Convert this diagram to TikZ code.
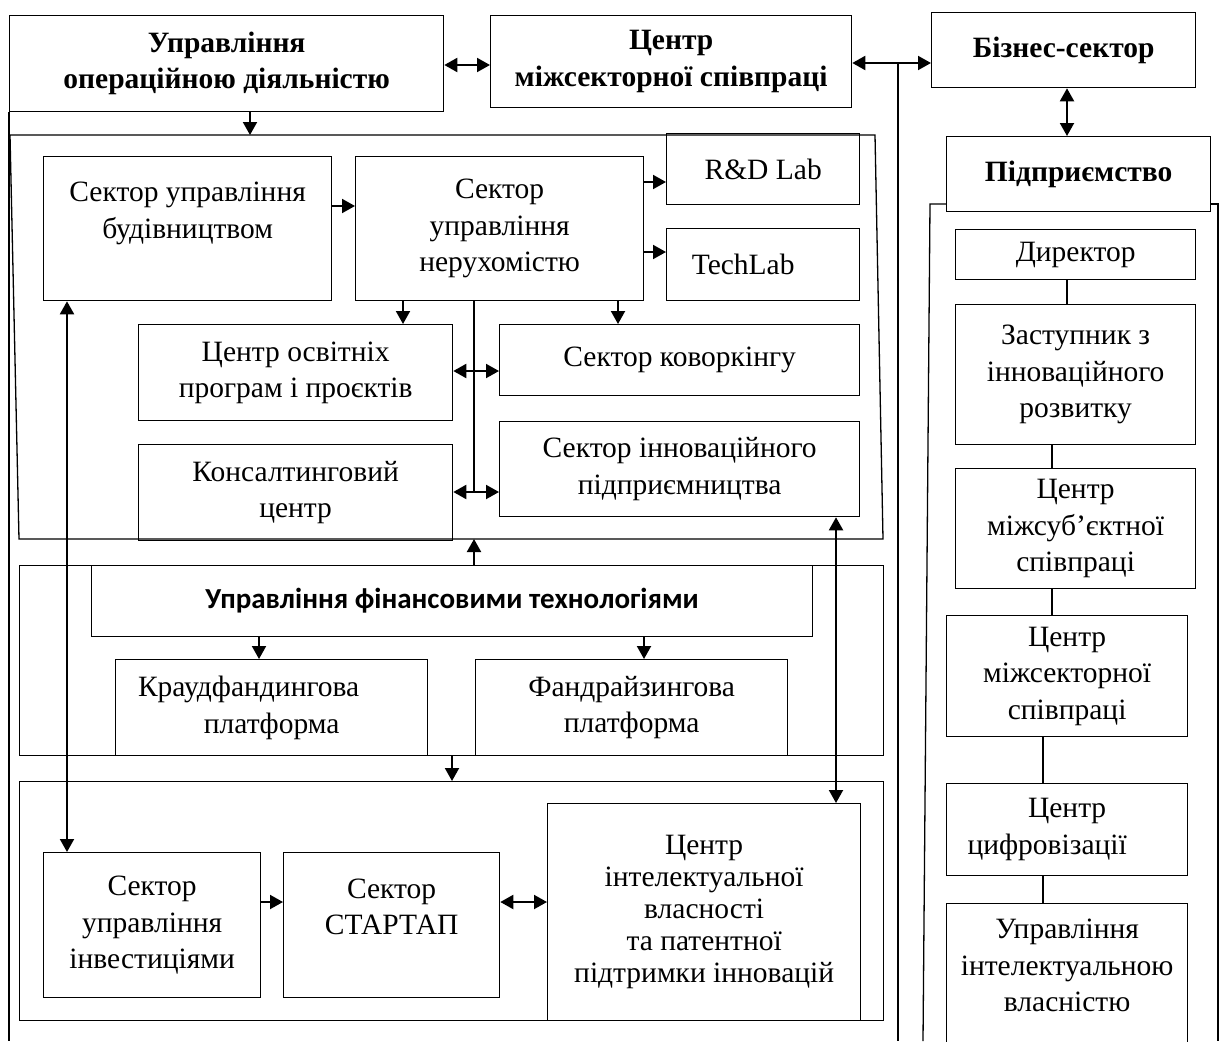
\documentclass[tikz,border=0pt]{standalone}
\usepackage{fontspec}
\setmainfont{Liberation Serif}
\newfontfamily\carlito{Carlito}
\usetikzlibrary{arrows.meta}
\begin{document}
\begin{tikzpicture}[x=1pt, y=-1pt,
  grp/.style = {draw, line width=1.3pt},
  box/.style = {draw, line width=1.3pt, align=center, inner sep=0pt, anchor=north west,
    font=\fontsize{29.5}{36.5}\selectfont},
  head/.style = {box, font=\fontsize{29.5}{36.5}\selectfont\bfseries},
  fin/.style = {box, font=\carlito\bfseries\fontsize{29}{36}\selectfont},
  arr/.style = {line width=2pt, -{Triangle[length=13pt, width=14pt]}},
  dbl/.style = {line width=2pt, {Triangle[length=13pt, width=14pt]}-{Triangle[length=13pt, width=14pt]}}]
\useasboundingbox (0,0) rectangle (1220,1041);

\coordinate (a1) at (10,135);
\coordinate (a2) at (875,135);
\coordinate (a3) at (883,539);
\coordinate (a4) at (19,539);
\coordinate (t) at (898,63);
\coordinate (b) at (898,1041);
\coordinate (j) at (474,492);
\draw[grp] (a1) -- (a2) -- (a3) -- (a4) -- cycle;
\node[grp, anchor=north west, inner sep=0pt, minimum width=864pt, minimum height=190pt] (25) at (19,565) {};
\node[grp, anchor=north west, inner sep=0pt, minimum width=864pt, minimum height=239pt] (26) at (19,781) {};

\node[head, minimum width=434pt, minimum height=96pt] (1) at (9,15) {Управління\\операційною діяльністю};
\node[head, minimum width=361pt, minimum height=92pt] (2) at (490,15) {Центр\\міжсекторної співпраці};
\node[head, minimum width=264pt, minimum height=75pt] (3) at (931,12) {Бізнес-сектор};
\node[head, minimum width=264pt, minimum height=75pt] (4) at (946,136) {Підприємство};
\node[box, minimum width=288pt, minimum height=144pt] (5) at (43,156) {Сектор управління\\будівництвом\\~};
\node[box, minimum width=288pt, minimum height=144pt] (6) at (355,156) {Сектор\\управління\\нерухомістю};
\node[box, minimum width=193pt, minimum height=71pt] (7) at (666,133) {R\&D Lab};
\node[box, minimum width=193pt, minimum height=72pt] (8) at (666,228) {TechLab\hspace*{40pt}};
\node[box, minimum width=314pt, minimum height=96pt] (9) at (138,324) {Центр освітніх\\програм і проєктів};
\node[box, minimum width=360pt, minimum height=71pt] (10) at (499,324) {Сектор коворкінгу};
\node[box, minimum width=314pt, minimum height=96pt] (11) at (138,444) {Консалтинговий\\центр};
\node[box, minimum width=360pt, minimum height=95pt] (12) at (499,421) {Сектор інноваційного\\підприємництва};
\node[fin, minimum width=721pt, minimum height=71pt] (13) at (91,565) {Управління фінансовими технологіями};
\node[box, minimum width=312pt, minimum height=96pt] (14) at (115,659) {Краудфандингова\hspace*{46pt}\\платформа};
\node[box, minimum width=312pt, minimum height=96pt] (15) at (475,659) {Фандрайзингова\\платформа};
\node[box, minimum width=217pt, minimum height=145pt] (16) at (43,852) {Сектор\\управління\\інвестиціями};
\node[box, minimum width=216pt, minimum height=145pt] (17) at (283,852) {Сектор\\СТАРТАП\\~};
\node[box, minimum width=313pt, minimum height=217pt, font=\fontsize{29.5}{32}\selectfont] (18) at (547,803) {Центр\\інтелектуальної\\власності\\та патентної\\підтримки інновацій};
\node[box, minimum width=240pt, minimum height=50pt] (19) at (955,229) {Директор};
\node[box, minimum width=240pt, minimum height=140pt] (20) at (955,304) {Заступник з\\інноваційного\\розвитку};
\node[box, minimum width=240pt, minimum height=120pt] (21) at (955,468) {Центр\\міжсуб’єктної\\співпраці};
\node[box, minimum width=241pt, minimum height=121pt] (22) at (946,615) {Центр\\міжсекторної\\співпраці};
\node[box, minimum width=241pt, minimum height=92pt] (23) at (946,783) {Центр\\цифровізації\hspace*{40pt}};
\node[box, minimum width=241pt, minimum height=160pt] (24) at (946,903) {Управління\\інтелектуальною\\власністю\\~};

\draw[grp] (1.south west) -- (1.south west |- b);
\draw[grp] (4.south west |- 0,204) -- (930,204) -- (923,1041);
\draw[grp] (4.south east |- 0,204) -- (1218,204) -- (1218,1041);
\draw[grp] (t) -- (b);

\draw[dbl] (1.east |- 0,65) -- (2.west |- 0,65);
\draw[dbl] (2.east |- t) -- (3.west |- t);
\draw[dbl] (3.south -| 1067,0) -- (4.north -| 1067,0);
\draw[arr] (1.south -| 250,0) -- (a1 -| 250,0);
\draw[arr] (5.east |- 0,206) -- (6.west |- 0,206);
\draw[arr] (6.east |- 0,182) -- (7.west |- 0,182);
\draw[arr] (6.east |- 0,252) -- (8.west |- 0,252);
\draw[arr] (6.south -| 403,0) -- (9.north -| 403,0);
\draw[arr] (6.south -| 618,0) -- (10.north -| 618,0);
\draw[grp] (6.south -| j) -- (j);
\draw[dbl] (9.east |- 0,371) -- (10.west |- 0,371);
\draw[dbl] (11.east |- j) -- (12.west |- j);
\draw[arr] (25.north -| j) -- (a4 -| j);
\draw[arr] (13.south -| 259,0) -- (14.north -| 259,0);
\draw[arr] (13.south -| 644,0) -- (15.north -| 644,0);
\draw[arr] (25.south -| 452,0) -- (26.north -| 452,0);
\draw[dbl] (5.south -| 67,0) -- (16.north -| 67,0);
\draw[dbl] (12.south -| 836,0) -- (18.north -| 836,0);
\draw[arr] (16.east |- 0,902) -- (17.west |- 0,902);
\draw[dbl] (17.east |- 0,902) -- (18.west |- 0,902);

\draw[grp] (19.south -| 1067,0) -- (20.north -| 1067,0);
\draw[grp] (20.south -| 1052,0) -- (21.north -| 1052,0);
\draw[grp] (21.south -| 1052,0) -- (22.north -| 1052,0);
\draw[grp] (22.south -| 1043,0) -- (23.north -| 1043,0);
\draw[grp] (23.south -| 1043,0) -- (24.north -| 1043,0);
\end{tikzpicture}
\end{document}
